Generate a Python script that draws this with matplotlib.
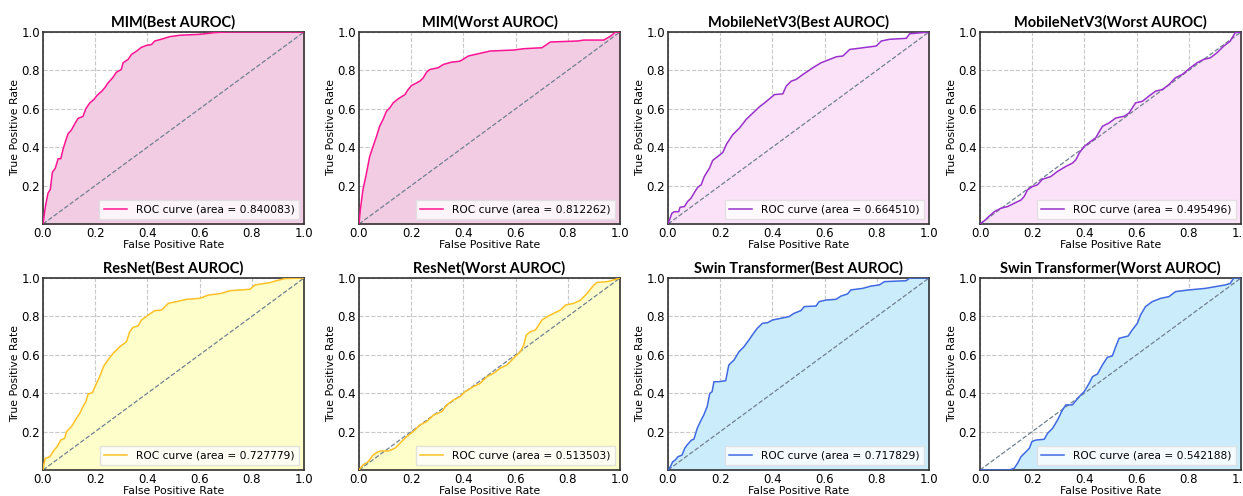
import matplotlib
matplotlib.use('Agg')
import matplotlib.pyplot as plt

# --- ROC points ---
mim_best_fpr = [0, 0.009, 0.019, 0.028, 0.036, 0.047, 0.058, 0.068, 0.077, 0.086, 0.096, 0.109, 0.121, 0.134,
                0.153, 0.164, 0.179, 0.196, 0.207, 0.224, 0.237, 0.249, 0.266, 0.281, 0.3, 0.307, 0.326, 0.339,
                0.358, 0.377, 0.396, 0.416, 0.428, 0.46, 0.486, 0.524, 0.601, 0.659, 0.703, 1.0]
mim_best_tpr = [0, 0.09, 0.16, 0.18, 0.27, 0.29, 0.34, 0.34, 0.39, 0.43, 0.47, 0.49, 0.52, 0.55,
                0.56, 0.60, 0.63, 0.65, 0.67, 0.69, 0.71, 0.735, 0.76, 0.79, 0.805, 0.84, 0.857, 0.883,
                0.90, 0.92, 0.93, 0.935, 0.953, 0.965, 0.976, 0.983, 0.988, 0.997, 1.0, 1.0]

mim_worst_fpr = [0, 0.005, 0.015, 0.026, 0.041, 0.054, 0.067, 0.079, 0.092, 0.105, 0.118, 0.131, 0.15, 0.176,
                 0.188, 0.201, 0.221, 0.233, 0.246, 0.259, 0.272, 0.304, 0.323, 0.355, 0.387, 0.419, 0.464,
                 0.503, 0.592, 0.631, 0.701, 0.733, 0.836, 0.862, 0.938, 0.964, 0.983, 1.0]
mim_worst_tpr = [0, 0.073, 0.178, 0.247, 0.352, 0.404, 0.456, 0.509, 0.544, 0.587, 0.605, 0.631, 0.652, 0.674,
                 0.70, 0.721, 0.735, 0.744, 0.761, 0.791, 0.805, 0.814, 0.831, 0.843, 0.848, 0.875, 0.889,
                 0.901, 0.906, 0.913, 0.918, 0.948, 0.953, 0.958, 0.958, 0.979, 1.0, 1.0]

mob_best_fpr = [0, 0.008, 0.015, 0.024, 0.041, 0.046, 0.063, 0.075, 0.088, 0.101, 0.114, 0.127, 0.139, 0.159,
                0.171, 0.191, 0.21, 0.225, 0.248, 0.274, 0.299, 0.325, 0.35, 0.37, 0.389, 0.408, 0.44, 0.453,
                0.472, 0.491, 0.517, 0.536, 0.555, 0.587, 0.619, 0.645, 0.67, 0.696, 0.747, 0.798, 0.817,
                0.849, 0.913, 0.926, 0.977, 1.0]
mob_best_tpr = [0, 0.03, 0.056, 0.064, 0.064, 0.087, 0.091, 0.117, 0.134, 0.164, 0.192, 0.204, 0.247, 0.291,
                0.331, 0.352, 0.373, 0.418, 0.465, 0.5, 0.544, 0.578, 0.61, 0.631, 0.652, 0.674, 0.678, 0.718,
                0.744, 0.753, 0.779, 0.796, 0.814, 0.84, 0.857, 0.871, 0.875, 0.909, 0.918, 0.927, 0.953,
                0.962, 0.967, 0.991, 0.997, 1.0]

mob_worst_fpr = [0, 0.017, 0.036, 0.055, 0.08, 0.106, 0.131, 0.157, 0.169, 0.182, 0.201, 0.22, 0.239, 0.271,
                 0.297, 0.329, 0.354, 0.367, 0.38, 0.399, 0.424, 0.443, 0.469, 0.494, 0.52, 0.552, 0.571,
                 0.596, 0.622, 0.647, 0.673, 0.698, 0.724, 0.748, 0.775, 0.806, 0.832, 0.857, 0.883, 0.908,
                 0.934, 0.959, 0.978, 1.0]
mob_worst_tpr = [0, 0.017, 0.042, 0.064, 0.082, 0.091, 0.108, 0.125, 0.143, 0.178, 0.195, 0.204, 0.233, 0.247,
                 0.274, 0.3, 0.317, 0.334, 0.369, 0.404, 0.43, 0.448, 0.509, 0.526, 0.552, 0.561, 0.578,
                 0.631, 0.639, 0.666, 0.692, 0.7, 0.726, 0.761, 0.779, 0.814, 0.84, 0.857, 0.866, 0.892,
                 0.927, 0.953, 0.997, 1.0]

res_best_fpr = [0, 0.004, 0.009, 0.026, 0.038, 0.054, 0.068, 0.083, 0.09, 0.109, 0.128, 0.141, 0.153, 0.164,
                0.173, 0.189, 0.205, 0.217, 0.233, 0.249, 0.269, 0.294, 0.32, 0.332, 0.345, 0.364, 0.377,
                0.403, 0.428, 0.454, 0.48, 0.512, 0.55, 0.601, 0.633, 0.684, 0.716, 0.793, 0.812, 0.87,
                0.895, 0.927, 1.0]
res_best_tpr = [0, 0.035, 0.061, 0.069, 0.095, 0.122, 0.156, 0.165, 0.2, 0.226, 0.269, 0.295, 0.33, 0.356,
                0.396, 0.403, 0.451, 0.486, 0.542, 0.573, 0.608, 0.642, 0.668, 0.72, 0.743, 0.75, 0.781,
                0.807, 0.83, 0.833, 0.868, 0.877, 0.889, 0.894, 0.911, 0.92, 0.934, 0.941, 0.964, 0.976,
                0.986, 0.997, 1.0]

res_worst_fpr = [0, 0.015, 0.035, 0.054, 0.073, 0.086, 0.112, 0.137, 0.163, 0.182, 0.208, 0.233, 0.259, 0.285,
                 0.317, 0.336, 0.362, 0.387, 0.406, 0.438, 0.464, 0.49, 0.515, 0.541, 0.567, 0.592, 0.618,
                 0.631, 0.641, 0.656, 0.676, 0.701, 0.721, 0.746, 0.772, 0.791, 0.823, 0.849, 0.874, 0.9,
                 0.913, 0.951, 0.983, 1.0]
res_worst_tpr = [0, 0.026, 0.043, 0.078, 0.095, 0.099, 0.099, 0.113, 0.148, 0.174, 0.2, 0.234, 0.252, 0.286,
                 0.304, 0.339, 0.365, 0.382, 0.408, 0.434, 0.451, 0.486, 0.503, 0.53, 0.547, 0.582, 0.616,
                 0.651, 0.703, 0.72, 0.729, 0.781, 0.799, 0.816, 0.833, 0.859, 0.868, 0.885, 0.92, 0.964,
                 0.977, 0.981, 0.993, 1.0]

swin_best_fpr = [0, 0.009, 0.018, 0.028, 0.038, 0.054, 0.064, 0.073, 0.09, 0.099, 0.112, 0.124, 0.137, 0.15,
                 0.16, 0.169, 0.176, 0.195, 0.221, 0.233, 0.253, 0.272, 0.291, 0.31, 0.323, 0.342, 0.362,
                 0.381, 0.4, 0.432, 0.464, 0.483, 0.509, 0.522, 0.567, 0.579, 0.605, 0.644, 0.663, 0.688,
                 0.701, 0.746, 0.778, 0.81, 0.829, 0.913, 0.926, 1.0]
swin_best_tpr = [0, 0.017, 0.043, 0.052, 0.069, 0.078, 0.113, 0.13, 0.156, 0.16, 0.217, 0.252, 0.286, 0.33,
                 0.399, 0.408, 0.46, 0.46, 0.465, 0.547, 0.573, 0.616, 0.642, 0.677, 0.703, 0.738, 0.764,
                 0.767, 0.781, 0.79, 0.799, 0.816, 0.83, 0.851, 0.854, 0.877, 0.885, 0.889, 0.906, 0.917,
                 0.938, 0.946, 0.958, 0.964, 0.981, 0.986, 1.0, 1.0]

swin_worst_fpr = [0, 0.112, 0.131, 0.144, 0.157, 0.176, 0.189, 0.199, 0.214, 0.246, 0.259, 0.278, 0.297, 0.316,
                  0.329, 0.354, 0.38, 0.399, 0.418, 0.431, 0.45, 0.469, 0.488, 0.507, 0.52, 0.533, 0.568,
                  0.583, 0.603, 0.615, 0.634, 0.66, 0.692, 0.724, 0.749, 0.794, 0.864, 0.902, 0.94, 0.959,
                  0.972, 1.0]
swin_worst_tpr = [0, 0, 0.009, 0.035, 0.069, 0.095, 0.113, 0.148, 0.156, 0.16, 0.191, 0.217, 0.26, 0.313,
                  0.339, 0.339, 0.382, 0.408, 0.451, 0.486, 0.5, 0.547, 0.587, 0.594, 0.642, 0.686, 0.698,
                  0.729, 0.764, 0.807, 0.851, 0.877, 0.894, 0.903, 0.929, 0.937, 0.946, 0.955, 0.964, 0.972,
                  1.0, 1.0]

titles = ['MIM(Best AUROC)', 'MIM(Worst AUROC)', 'MobileNetV3(Best AUROC)', 'MobileNetV3(Worst AUROC)',
          'ResNet(Best AUROC)', 'ResNet(Worst AUROC)', 'Swin Transformer(Best AUROC)', 'Swin Transformer(Worst AUROC)']
areas = [0.840083, 0.812262, 0.664510, 0.495496, 0.727779, 0.513503, 0.717829, 0.542188]
curves = [(mim_best_fpr, mim_best_tpr), (mim_worst_fpr, mim_worst_tpr),
          (mob_best_fpr, mob_best_tpr), (mob_worst_fpr, mob_worst_tpr),
          (res_best_fpr, res_best_tpr), (res_worst_fpr, res_worst_tpr),
          (swin_best_fpr, swin_best_tpr), (swin_worst_fpr, swin_worst_tpr)]
line_colors = ['#ff1493', '#ff1493', '#9932cc', '#9932cc', '#ffc125', '#ffc125', '#4169e1', '#4169e1']
fill_colors = ['#f2cce2', '#f2cce2', '#fbe2f8', '#fbe2f8', '#fefecb', '#fefecb', '#cbedfb', '#cbedfb']

fig = plt.figure(figsize=(12.43, 4.96), dpi=100)
lefts = [43, 359, 668, 980]
tops = [32, 278]
w_px, h_px = 261, 192

for i in range(8):
    r, c = divmod(i, 4)
    ax = fig.add_axes([lefts[c] / 1243, 1 - (tops[r] + h_px) / 496, w_px / 1243, h_px / 496])
    fpr, tpr = curves[i]
    ax.fill_between(fpr, tpr, 0, color=fill_colors[i], zorder=1)
    ax.plot(fpr, tpr, color=line_colors[i], lw=1.1,
            label='ROC curve (area = %.6f)' % areas[i], zorder=3)
    ax.plot([0, 1], [0, 1], color='#708090', lw=0.9, ls='--', zorder=2)
    ax.set_xlim(0, 1)
    ax.set_ylim(0, 1)
    ax.set_xticks([0, 0.2, 0.4, 0.6, 0.8, 1.0])
    ax.set_yticks([0.2, 0.4, 0.6, 0.8, 1.0])
    ax.tick_params(labelsize=8.5, length=0, pad=2)
    ax.grid(True, ls='--', color='#c8c8c8', lw=0.8, zorder=0)
    ax.set_axisbelow(True)
    for s in ax.spines.values():
        s.set_linewidth(1.2)
        s.set_color('#333333')
    ax.set_xlabel('False Positive Rate', fontsize=7.8, labelpad=0)
    ax.set_ylabel('True Positive Rate', fontsize=7.8, labelpad=1)
    ax.set_title(titles[i], fontsize=10.5, fontweight='bold', family='Lato', pad=4)
    ax.legend(loc='lower right', fontsize=7.7, framealpha=0.8, fancybox=False, edgecolor='#dddddd',
              handlelength=2.2)

fig.savefig('out.png', dpi=100)
